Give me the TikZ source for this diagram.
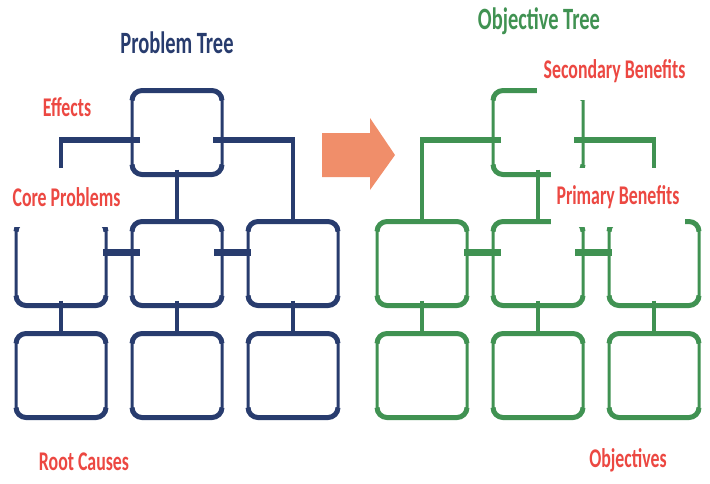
\documentclass[tikz,border=0pt]{standalone}
\usepackage{fontspec}
\setmainfont{Carlito}[FakeStretch=0.66]
\definecolor{navy}{RGB}{40,60,110}
\definecolor{grn}{RGB}{64,146,82}
\definecolor{redc}{RGB}{236,72,66}
\definecolor{arrowc}{RGB}{240,142,106}
\begin{document}
\begin{tikzpicture}[x=1pt,y=-1pt,
  box/.style={draw, line width=3pt, rounded corners=10pt, minimum width=90pt, minimum height=84pt, inner sep=0pt, outer sep=0pt},
  edgeline/.style={line width=5pt, rounded corners=10pt},
  conn/.style={line width=3.5pt},
  bar/.style={line width=6pt},
  stub/.style={line width=7pt},
  lbl/.style={text=redc, font=\fontsize{27}{30}\selectfont\bfseries, inner sep=0pt},
  cover/.style={lbl, fill=white},
  ttl/.style={font=\fontsize{31}{34}\selectfont\bfseries, inner sep=0pt}
]
\useasboundingbox (0,0) rectangle (710,483);

% ---------- trees ----------
\foreach \p/\c/\dx in {p/navy/0, o/grn/361} {
  \node[box,\c] (\p t)  at (177+\dx,132.5) {};
  \node[box,\c] (\p m1) at (61+\dx,263.5) {};
  \node[box,\c] (\p m2) at (177+\dx,263.5) {};
  \node[box,\c] (\p m3) at (293+\dx,263.5) {};
  \node[box,\c] (\p b1) at (61+\dx,375.5) {};
  \node[box,\c] (\p b2) at (177+\dx,375.5) {};
  \node[box,\c] (\p b3) at (293+\dx,375.5) {};
  \foreach \n in {t,m1,m2,m3,b1,b2,b3} {
    \draw[edgeline,\c] ([yshift=-10pt]\p\n.north west) -- (\p\n.north west) -- (\p\n.north east) -- ([yshift=-10pt]\p\n.north east);
    \draw[edgeline,\c] ([yshift=10pt]\p\n.south west) -- (\p\n.south west) -- (\p\n.south east) -- ([yshift=10pt]\p\n.south east);
  }
  % top to middle
  \draw[conn,\c] ([yshift=5pt]\p t.south) -- (\p m2.north);
  \coordinate (\p tl) at ([yshift=-7.5pt]\p t.west);
  \coordinate (\p tr) at ([yshift=-7.5pt]\p t.east);
  \coordinate (\p cl) at (\p tl -| \p m1.north);
  \coordinate (\p cr) at (\p tr -| \p m3.north);
  \draw[bar,\c] ([xshift=8pt]\p tl) -- ([xshift=-1.75pt]\p cl);
  \draw[bar,\c] ([xshift=-9pt]\p tr) -- ([xshift=1.75pt]\p cr);
  \draw[conn,\c] ([yshift=3pt]\p cl) -- (\p m1.north);
  \draw[conn,\c] ([yshift=3pt]\p cr) -- (\p m3.north);
  % middle stubs
  \draw[stub,\c] ([shift={(-3pt,11.5pt)}]\p m1.east) -- ([shift={(8pt,11.5pt)}]\p m2.west);
  \draw[stub,\c] ([shift={(-8pt,11.5pt)}]\p m2.east) -- ([shift={(3pt,11.5pt)}]\p m3.west);
  % middle to bottom
  \foreach \k in {1,2,3} {
    \draw[conn,\c] ([yshift=5pt]\p m\k.south) -- (\p b\k.north);
  }
}

% ---------- arrow ----------
\fill[arrowc] (322,133) -- (370,133) -- (370,118) -- (395,155) -- (370,190) -- (370,177) -- (322,177) -- cycle;

% ---------- titles ----------
\node[ttl,text=navy] (ptitle) at (177,43) {Problem Tree};
\node[ttl,text=grn]  (otitle) at (539,21) {Objective Tree};

% ---------- labels ----------
\node[lbl] (effects) at (67,107) {Effects};
\node[cover, minimum width=117pt, minimum height=59pt] (core) at (66.5,197.5) {Core Problems};
\node[lbl] (root) at (84,462) {Root Causes};
\node[cover, minimum width=155pt, minimum height=58pt] (secb) at (614.5,71) {Secondary Benefits};
\node[cover, minimum width=134pt, minimum height=59pt] (primb) at (618,197.5) {Primary Benefits};
\node[lbl] (objs) at (628,460) {Objectives};
\end{tikzpicture}
\end{document}
